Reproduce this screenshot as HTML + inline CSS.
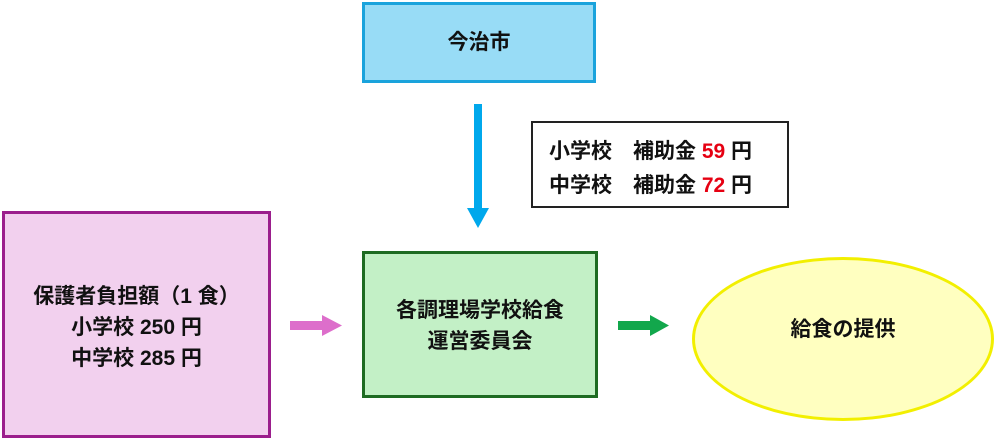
<!DOCTYPE html>
<html><head><meta charset="utf-8"><style>
body{margin:0;width:1000px;height:442px;background:#fff;position:relative;overflow:hidden;font-family:"Liberation Sans","Noto Sans CJK JP",sans-serif;color:#111;font-weight:bold}
.b{position:absolute;box-sizing:border-box;display:flex;flex-direction:column;align-items:center;justify-content:center;font-size:21px;line-height:31px;text-align:center}
.r{color:#e60012}
</style></head><body>
<div class="b" style="left:362px;top:2px;width:234px;height:81px;background:#98dcf6;border:3px solid #1aa3dc">今治市</div>
<div class="b" style="left:531px;top:121px;width:258px;height:87px;border:2px solid #222;align-items:flex-start;padding-left:16px;padding-top:8px;line-height:34px">
<div>小学校　補助金 <span class="r">59</span> 円</div><div>中学校　補助金 <span class="r">72</span> 円</div></div>
<div class="b" style="left:2px;top:211px;width:269px;height:227px;background:#f2d0ee;border:3px solid #9b1e8c;padding-top:6px"><div>保護者負担額（1 食）</div><div>小学校 250 円</div><div>中学校 285 円</div></div>
<div class="b" style="left:362px;top:251px;width:236px;height:147px;background:#c3f0c6;border:3px solid #1e6b22;padding-top:2px"><div>各調理場学校給食</div><div>運営委員会</div></div>
<div class="b" style="left:692px;top:257px;width:302px;height:164px;border-radius:50%;background:#ffffc0;border:3px solid #f2ef00;padding-bottom:20px">給食の提供</div>
<svg width="1000" height="442" style="position:absolute;left:0;top:0">
<rect x="474" y="104" width="8" height="106" fill="#00a8ec"/><polygon points="467,208 489,208 478,228" fill="#00a8ec"/>
<rect x="290" y="321" width="34" height="9" fill="#dd6ecb"/><polygon points="322,315 342,325.5 322,336" fill="#dd6ecb"/>
<rect x="618" y="321" width="34" height="9" fill="#12a74c"/><polygon points="650,315 669,325.5 650,336" fill="#12a74c"/>
</svg>
</body></html>
